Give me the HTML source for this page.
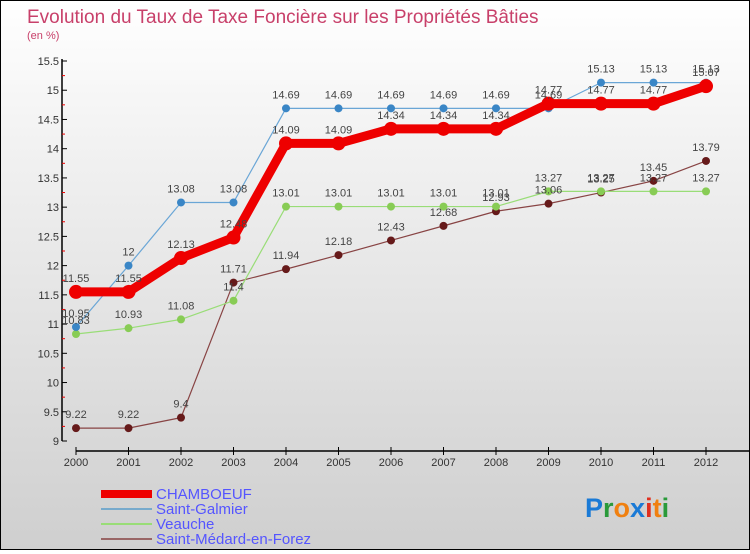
<!DOCTYPE html>
<html><head><meta charset="utf-8"><style>
html,body{margin:0;padding:0}
body{width:750px;height:550px;overflow:hidden;font-family:"Liberation Sans",sans-serif}
#wrap{position:relative;width:748px;height:548px;border:1px solid #000;background:linear-gradient(#ffffff,#f0f0f0 30%,#cfcfcf)}
svg text{font-family:"Liberation Sans",sans-serif}
</style></head><body>
<div id="wrap">
<svg id="chart" width="748" height="548">
<text x="26" y="22" font-size="19" fill="#c8406a">Evolution du Taux de Taxe Foncière sur les Propriétés Bâties</text>
<text x="26" y="38" font-size="11" fill="#c8406a">(en %)</text>
<g id="axes"></g><g id="series"></g><g id="labels"></g>
<g>
<rect x="100" y="489" width="51" height="8" fill="#ee0000"/>
<text x="155" y="498" font-size="15" fill="#5555ff">CHAMBOEUF</text>
<rect x="100" y="507" width="51" height="2" fill="#77aacc"/>
<text x="155" y="513" font-size="15" fill="#5555ff">Saint-Galmier</text>
<rect x="100" y="522" width="51" height="2" fill="#99dd77"/>
<text x="155" y="528" font-size="15" fill="#5555ff">Veauche</text>
<rect x="100" y="537" width="51" height="2" fill="#996666"/>
<text x="155" y="543" font-size="15" fill="#5555ff">Saint-Médard-en-Forez</text>
</g>
<g font-size="27" font-weight="bold">
<text x="584" y="516"><tspan fill="#1a7ad6">P</tspan><tspan fill="#2a9a3a">r</tspan><tspan fill="#f08010">o</tspan><tspan fill="#1a7ad6">x</tspan><tspan fill="#e03020">i</tspan><tspan fill="#f08010">t</tspan><tspan fill="#2a9a3a">i</tspan></text>
</g>
</svg>
</div>
<script>
const years=["2000","2001","2002","2003","2004","2005","2006","2007","2008","2009","2010","2011","2012"];
const yTicks=[9,9.5,10,10.5,11,11.5,12,12.5,13,13.5,14,14.5,15,15.5];
const chamboeuf=[11.55,11.55,12.13,12.48,14.09,14.09,14.34,14.34,14.34,14.77,14.77,14.77,15.07];
const galmier=[10.95,12,13.08,13.08,14.69,14.69,14.69,14.69,14.69,14.69,15.13,15.13,15.13];
const veauche=[10.83,10.93,11.08,11.4,13.01,13.01,13.01,13.01,13.01,13.27,13.27,13.27,13.27];
const medard=[9.22,9.22,9.4,11.71,11.94,12.18,12.43,12.68,12.93,13.06,13.25,13.45,13.79];
const NS="http://www.w3.org/2000/svg";
function xs(i){return 75+i*52.5;}
function ys(v){return 440-(v-9)*(380/6.5);}
function mk(tag,attrs,parent){const e=document.createElementNS(NS,tag);for(const k in attrs)e.setAttribute(k,attrs[k]);parent.appendChild(e);return e;}
const axes=document.getElementById('axes'),ser=document.getElementById('series'),lab=document.getElementById('labels');
let yl=mk('line',{x1:61,y1:58,x2:61,y2:440,stroke:'#000','stroke-width':1.5},axes);


yTicks.forEach(v=>{
 mk('line',{x1:61,y1:ys(v),x2:66,y2:ys(v),stroke:'#000'},axes);
 if(v<15.5) mk('line',{x1:61,y1:ys(v+0.25),x2:64,y2:ys(v+0.25),stroke:'#e00'},axes);
 const t=mk('text',{x:58,y:ys(v)+4,'font-size':11,'text-anchor':'end',fill:'#333'},axes);
 t.textContent=String(v);
 
 
});
let xl=mk('line',{x1:75,y1:450,x2:748,y2:450,stroke:'#000','stroke-width':1.5},axes);


years.forEach((y,i)=>{
 mk('line',{x1:xs(i),y1:446,x2:xs(i),y2:454,stroke:'#000'},axes);
 const t=mk('text',{x:xs(i),y:465,'font-size':11,'text-anchor':'middle',fill:'#333'},axes);
 t.textContent=y;
 
 
});
function draw(data,name,color,w,r,dot){
 const pts=data.map((v,i)=>xs(i)+','+ys(v)).join(' ');
 const pl=mk('polyline',{points:pts,fill:'none',stroke:color,'stroke-width':w,'stroke-linejoin':'round'},ser);
 
 
 data.forEach((v,i)=>{
  const c=mk('circle',{cx:xs(i),cy:ys(v),r:r,fill:dot},ser);
  
  
  const t=mk('text',{x:xs(i),y:ys(v)-10,'font-size':11,'text-anchor':'middle',fill:'#444'},lab);
  t.textContent=String(v);
  
  
 });
}
draw(medard,'saint-medard','#884444',1.2,4,'#661a1a');
draw(veauche,'veauche','#99dd77',1.2,4,'#88cc55');
draw(galmier,'saint-galmier','#6aa6d6',1.2,4,'#3a86c6');
draw(chamboeuf,'chamboeuf','#ee0000',9,7,'#ee0000');
</script>
</body></html>
